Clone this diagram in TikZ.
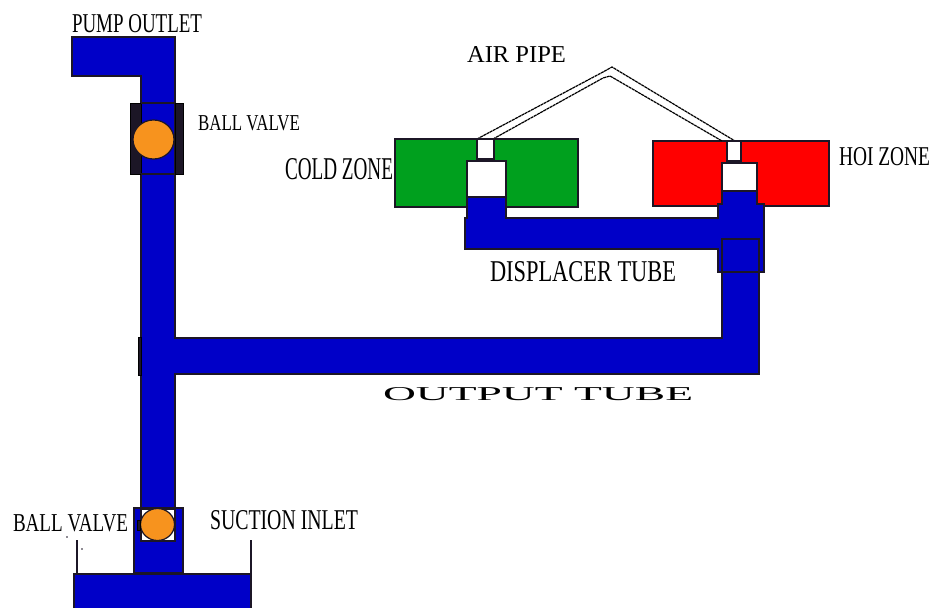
\documentclass[tikz,border=0pt]{standalone}
\usepackage{fontspec}
\usepackage{graphicx}
\setmainfont{Liberation Serif}
\usetikzlibrary{positioning}
\definecolor{tube}{HTML}{0000C8}
\definecolor{cold}{HTML}{00A01E}
\definecolor{hot}{HTML}{FF0000}
\definecolor{ball}{HTML}{F7931E}
\definecolor{edge}{HTML}{1C1626}
\tikzset{
  wall/.style={draw=edge,line width=1.2pt},
  pipe/.style={wall,fill=tube},
  zone/.style={wall,line width=1.4pt},
  gap/.style={wall,fill=white},
  valve/.style={wall,fill=ball},
  clamp/.style={fill=edge},
  air/.style={draw=black,line width=1.2pt,dash pattern=on 3pt off 0.6pt},
  lbl/.style={anchor=north west,inner sep=0pt,outer sep=0pt},
}
\newcommand{\tl}[3]{\resizebox{#1pt}{#2pt}{#3}}
\begin{document}
\begin{tikzpicture}[x=1pt,y=-1pt]
\useasboundingbox (0,0) rectangle (933,607);
% zones
\draw[zone,fill=cold] (395,139) rectangle (578,207);
\draw[zone,fill=hot] (653,141) rectangle (829,206);
% air pipe
\draw[air] (477,139) -- (603,72) -- (612,67) -- (735,141);
\draw[air] (493,139) -- (603,78) -- (610,76) -- (722,141);
\draw[gap] (477,139) rectangle (494,159);
\draw[gap] (727,141) rectangle (741,161);
\draw[line width=2pt,edge] (477,139) -- (494,139);
\draw[gap] (467,161) rectangle (506,197);
\draw[gap] (722,163) rectangle (757,191);
% displacer tube
\draw[pipe] (465,218) -- (467,218) -- (467,197) -- (506,197) -- (506,218) -- (718,218) -- (718,204)
  -- (722,204) -- (722,191) -- (757,191) -- (757,204) -- (764,204) -- (764,272) -- (718,272)
  -- (718,249) -- (465,249) -- cycle;
% main pipe
\draw[pipe] (72,37) -- (175,37) -- (175,338) -- (722,338) -- (722,272) -- (759,272) -- (759,374)
  -- (175,374) -- (175,508) -- (141,508) -- (141,76) -- (72,76) -- cycle;
\draw[wall] (722,239) rectangle (759,272);
\fill[tube] (723,273.5) rectangle (758,337.5);
\draw[clamp] (138,337) rectangle (141.5,375);
% upper valve
\draw[clamp] (130,103) rectangle (141,174);
\draw[clamp] (175,103) rectangle (183,174);
\draw[wall] (141,103) -- (175,103);
\draw[wall] (141,174) -- (175,174);
\draw[valve] (153.5,139.5) ellipse (20.5 and 19.5);
% suction end
\draw[pipe] (134,508) rectangle (183,573);
\draw[gap] (141,509) rectangle (175,541);
\draw[valve] (157.5,524.5) ellipse (17 and 16);
\draw[clamp] (137.5,520) rectangle (140,530);
\draw[pipe] (74,574) rectangle (251,612);
\draw[wall] (77,540) -- (77,574);
\draw[wall] (251,540) -- (251,574);
\fill[edge] (67,537) circle (0.8);
\fill[edge] (82,549) circle (0.8);
% labels
\node[lbl] (pumpoutlet) at (72,15) {\tl{130}{18}{PUMP OUTLET}};
\node[lbl] (topvalve) at (198,115) {\tl{102}{15}{BALL VALVE}};
\node[lbl] (coldzone) at (285,158) {\tl{108}{21}{COLD ZONE}};
\node[lbl] (airpipe) at (467,47) {\tl{99}{16}{AIR PIPE}};
\node[lbl] (hotzone) at (839,147) {\tl{91}{18}{HOI ZONE}};
\node[lbl] (displacer) at (490,261) {\tl{186}{20}{DISPLACER TUBE}};
\node[lbl] (output) at (383,387) {\tl{310}{13}{OUTPUT TUBE}};
\node[lbl] (lowvalve) at (13,514) {\tl{115}{17}{BALL VALVE}};
\node[lbl] (suction) at (210,510) {\tl{148}{19}{SUCTION INLET}};
\end{tikzpicture}
\end{document}
